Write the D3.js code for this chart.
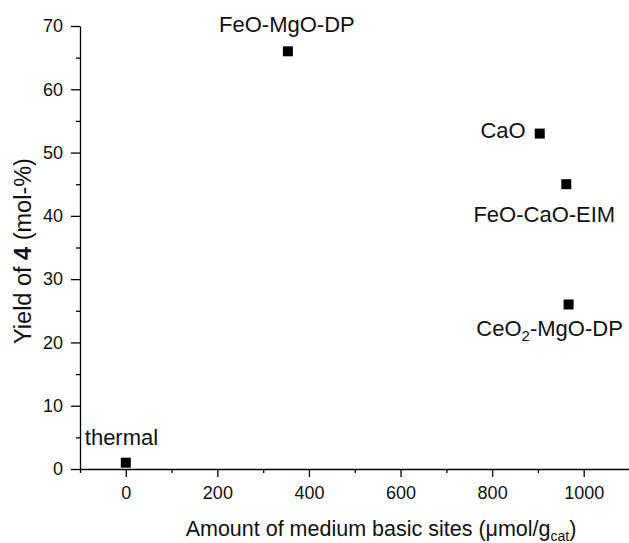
<!DOCTYPE html>
<html>
<head>
<meta charset="utf-8">
<script src="https://cdn.jsdelivr.net/npm/d3@7"></script>
<style>
  body { margin: 0; background: #fff; }
  svg { display: block; font-family: "Liberation Sans", Arial, sans-serif; }
  .axis path, .axis line { stroke: #000; stroke-width: 1.3; }
  .axis text { font-size: 18px; fill: #111; }
</style>
</head>
<body>
<svg></svg>
<script>
// catalysts, medium basic sites (umol/g_cat) and yield of 4 (mol-%)
let catalysts = ["thermal", "FeO-MgO-DP", "CaO", "FeO-CaO-EIM", "CeO2-MgO-DP"]
let sites = [0, 354, 904, 962, 967]
let yields = [1, 66, 53, 45, 26]

let xTicks = [0, 200, 400, 600, 800, 1000]
let xMinor = [-100, 100, 300, 500, 700, 900, 1100]
let yTicks = [0, 10, 20, 30, 40, 50, 60, 70]
let yMinor = [5, 15, 25, 35, 45, 55, 65]

let width = 629
let height = 543

let svg = d3.select("svg")
    .attr("width", width)
    .attr("height", height)

let xScale = d3.scaleLinear().domain([-100, 1100]).range([80, 629.5])
let yScale = d3.scaleLinear().domain([0, 70]).range([469, 26])

// minor ticks first, then the main axes on top
svg.append("g")
    .attr("class", "axis")
    .attr("transform", "translate(0," + yScale(0) + ")")
    .call(d3.axisBottom(xScale).tickValues(xMinor).tickSize(4).tickSizeOuter(0).tickFormat(""))
    .select(".domain").remove()

svg.append("g")
    .attr("class", "axis")
    .attr("transform", "translate(" + xScale(-100) + ",0)")
    .call(d3.axisLeft(yScale).tickValues(yMinor).tickSize(4).tickSizeOuter(0).tickFormat(""))
    .select(".domain").remove()

svg.append("g")
    .attr("class", "axis")
    .attr("transform", "translate(0," + yScale(0) + ")")
    .call(d3.axisBottom(xScale).tickValues(xTicks).tickSize(8).tickPadding(9).tickSizeOuter(0).tickFormat(d3.format("d")))

svg.append("g")
    .attr("class", "axis")
    .attr("transform", "translate(" + xScale(-100) + ",0)")
    .call(d3.axisLeft(yScale).tickValues(yTicks).tickSize(9).tickPadding(8).tickSizeOuter(0))

// points
svg.selectAll("rect.pt")
    .data(catalysts)
    .enter()
    .append("rect")
    .attr("class", "pt")
    .attr("x", (d, i) => xScale(sites[i]) - 5)
    .attr("y", (d, i) => yScale(yields[i]) - 5)
    .attr("width", 10)
    .attr("height", 10)
    .attr("fill", "#000")

// label placement relative to each point (pixels)
let labelPos = {
    "thermal": { anchor: "start", dx: -41, dy: -18 },
    "FeO-MgO-DP": { anchor: "middle", dx: -1, dy: -19 },
    "CaO": { anchor: "end", dx: -14, dy: 4 },
    "FeO-CaO-EIM": { anchor: "middle", dx: -22, dy: 38 },
    "CeO2-MgO-DP": { anchor: "middle", dx: -19, dy: 32 }
}

catalysts.forEach((name, i) => {
    let p = labelPos[name]
    let t = svg.append("text")
        .attr("x", xScale(sites[i]) + p.dx)
        .attr("y", yScale(yields[i]) + p.dy)
        .attr("text-anchor", p.anchor)
        .attr("font-size", 22)
        .attr("fill", "#111")
    if (name == "CeO2-MgO-DP") {
        t.append("tspan").text("CeO")
        t.append("tspan").attr("font-size", 15).attr("dy", 5).text("2")
        t.append("tspan").attr("dy", -5).text("-MgO-DP")
    } else {
        t.text(name)
    }
})

// axis titles
let xt = svg.append("text")
    .attr("x", 381)
    .attr("y", 536)
    .attr("text-anchor", "middle")
    .attr("font-size", 21.5)
    .attr("fill", "#111")
xt.append("tspan").text("Amount of medium basic sites (\u03bcmol/g")
xt.append("tspan").attr("font-size", 14).attr("dy", 5).text("cat")
xt.append("tspan").attr("dy", -5).text(")")

let yt = svg.append("text")
    .attr("transform", "translate(31,251) rotate(-90)")
    .attr("text-anchor", "middle")
    .attr("font-size", 23.5)
    .attr("fill", "#111")
yt.append("tspan").text("Yield of ")
yt.append("tspan").attr("font-weight", "bold").text("4")
yt.append("tspan").text(" (mol-%)")
</script>
</body>
</html>
